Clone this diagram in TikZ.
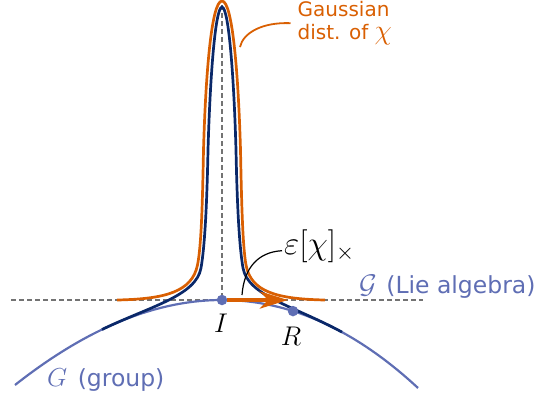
\RequirePackage{fix-cm}
\documentclass[tikz,border=0pt]{standalone}
\usepackage{fontspec}
\setmainfont{DejaVu Sans}
\usetikzlibrary{arrows.meta}

\definecolor{gaussorange}{RGB}{217,95,2}
\definecolor{wrapnavy}{RGB}{10,40,105}
\definecolor{groupblue}{RGB}{95,110,180}
\definecolor{axisgray}{RGB}{115,115,115}
\newcommand{\lblmath}[2]{{\fontsize{#1}{#1}\selectfont$#2$}}

\begin{document}
\begin{tikzpicture}[x=1pt,y=-1pt,
  axisline/.style={axisgray, line width=2.2pt, dash pattern=on 5pt off 3pt},
  groupcurve/.style={groupblue, line width=2.2pt},
  gausscurve/.style={gaussorange, line width=2.7pt},
  wrapcurve/.style={wrapnavy, line width=2.7pt},
  pointdot/.style={circle, fill=groupblue, inner sep=0pt, minimum size=10.5pt},
  bluelbl/.style={groupblue, inner sep=0pt, font=\fontsize{23.5}{27}\selectfont},
  mathlbl/.style={inner sep=0pt, font=\fontsize{27}{32}\selectfont}]
\useasboundingbox (0,0) rectangle (537,397);
\draw[axisline] (11,300) -- (423,300);
\draw[axisline] (222,5) -- (222,300);
\draw[groupcurve] plot[domain=15:418, samples=100, smooth]
  (\x, {300 + 21.41*((\x-222)/100)^2 + 0.76*((\x-222)/100)^3});
\draw[wrapcurve] (102,329.5) .. controls (150,306.4) and (196,296) .. (201,268)
  .. controls (205,245) and (207,200) .. (208,150)
  .. controls (210,80) and (215,8) .. (222,7)
  .. controls (229,8) and (234,80) .. (236,150)
  .. controls (237,200) and (239,245) .. (243,268)
  .. controls (248,296) and (294,306) .. (342,332.1);
\draw[gausscurve] (117,300) .. controls (165,299) and (192,292) .. (197.5,265)
  .. controls (201.5,245) and (202.5,200) .. (203.5,150)
  .. controls (205.5,80) and (211,1) .. (222,1)
  .. controls (233,1) and (238.5,80) .. (240.5,150)
  .. controls (241.5,200) and (242.5,245) .. (246,265)
  .. controls (251,292) and (277,299) .. (325,300);

\node[pointdot] (dotI) at (222,300) {};
\node[pointdot] (dotR) at (293,311.1) {};
\coordinate (tipR) at (288,300);
\draw[gaussorange, line width=4.5pt, -{Stealth[length=28pt, width=17pt, inset=8pt]}] (dotI) -- (tipR);

\node[mathlbl, anchor=base] (lblI) at (221,332) {$I$};
\node[mathlbl, anchor=base] (lblR) at (291,345) {$R$};
\node[bluelbl, anchor=base west] (lblgroup) at (47,386) {\lblmath{26}{G}\hspace{3pt} (group)};
\node[bluelbl, anchor=base west] (lblalg) at (359,293) {\lblmath{27}{\mathcal{G}}\hspace{2pt} (Lie algebra)};
\node[inner sep=0pt, anchor=west, font=\fontsize{33}{37}\selectfont] (lbleps) at (284,246.7) {$\varepsilon[\chi]_\times$};
\node[gaussorange, inner sep=0pt, anchor=north west, align=left, font=\fontsize{20}{22.3}\selectfont]
  (lblgauss) at (297.5,1.5) {Gaussian\\dist. of \lblmath{28}{\chi}};

\coordinate (epsfoot) at (242,295);
\coordinate (gaussfoot) at (240,47);
\draw[line width=1.2pt] (epsfoot) .. controls (244,268) and (258,252) .. ([xshift=-2pt, yshift=-4pt]lbleps.west);
\draw[gaussorange, line width=1.8pt] (gaussfoot) .. controls (243,33) and (262,22) .. ([xshift=-7pt]lblgauss.west);
\end{tikzpicture}
\end{document}
